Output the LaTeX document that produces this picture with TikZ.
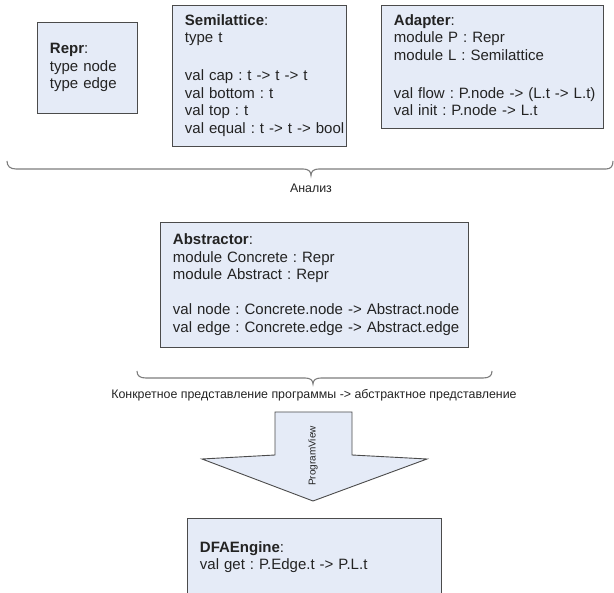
\documentclass[tikz,border=0pt]{standalone}
\usepackage{fontspec}
\setmainfont{Liberation Sans}
\frenchspacing
\definecolor{boxfill}{RGB}{229,235,247}
\definecolor{boxline}{RGB}{75,75,75}
\definecolor{braceline}{RGB}{125,125,125}
\definecolor{txt}{RGB}{35,35,35}
\begin{document}
\frenchspacing
\begin{tikzpicture}[x=1pt,y=-1pt,
  box/.style={draw=boxline, fill=boxfill, line width=0.9pt, anchor=north west,
    align=left, text=txt, font=\fontsize{15}{17.5}\selectfont\frenchspacing,
    inner xsep=12.5pt, inner ysep=0pt},
  brace/.style={draw=braceline, line width=1.1pt},
  captext/.style={text=txt, font=\fontsize{12.4}{14}\selectfont\frenchspacing, inner sep=0pt},
  bigarrow/.style={draw=boxline, fill=boxfill, line width=0.9pt, line join=miter}]
\useasboundingbox (0,0) rectangle (614,593);
\clip (0,0) rectangle (614,593);

\node[box, text width=75pt, minimum height=91pt] (repr) at (37,22)
  {\begin{tabular}{@{}l@{}}\textbf{Repr}:\\type node\\type edge\end{tabular}};
\node[box, text width=149pt, minimum height=141pt] (semi) at (172,5)
  {\begin{tabular}{@{}l@{}}\textbf{Semilattice}:\\type t\\ \\[3pt]val cap : t -> t -> t\\val bottom : t\\val top : t\\val equal : t -> t -> bool\end{tabular}};
\node[box, text width=197pt, minimum height=123pt] (adapter) at (381,5)
  {\begin{tabular}{@{}l@{}}\textbf{Adapter}:\\module P : Repr\\module L : Semilattice\\ \\[3pt]val flow : P.node -> (L.t -> L.t)\\val init : P.node -> L.t\end{tabular}};

\draw[brace] (7,161) .. controls (7,166) and (10,169) .. (16,169) -- (303,169)
  .. controls (308,169) and (311,171) .. (311,175.5)
  .. controls (311,171) and (314,169) .. (319,169) -- (606,169)
  .. controls (611,169) and (613,166) .. (613,161);
\node[captext] (analiz) at (311,188) {Анализ};

\node[box, text width=283pt, minimum height=125pt] (abstr) at (160,222)
  {\begin{tabular}{@{}l@{}}\textbf{Abstractor}:\\module Concrete : Repr\\module Abstract : Repr\\ \\val node : Concrete.node -> Abstract.node\\val edge : Concrete.edge -> Abstract.edge\end{tabular}};

\draw[brace] (137,371) .. controls (137,376) and (140,378) .. (146,378) -- (305,378)
  .. controls (310,378) and (313,380) .. (313,384)
  .. controls (313,380) and (316,378) .. (321,378) -- (483,378)
  .. controls (489,378) and (492,376) .. (492,371);
\node[captext] (conc) at (314,395) {Конкретное представление программы -> абстрактное представление};

\draw[bigarrow] (275,412) -- (352,412) -- (352,455) -- (427,459) -- (313,501) -- (202,459) -- (275,455) -- cycle;
\node[captext, font=\fontsize{10}{12}\selectfont, rotate=90] (pview) at (313,456) {ProgramView};

\node[box, text width=229pt, minimum height=78pt] (dfa) at (187,518)
  {\begin{tabular}{@{}l@{}}\textbf{DFAEngine}:\\val get : P.Edge.t -> P.L.t\end{tabular}};
\end{tikzpicture}
\end{document}
